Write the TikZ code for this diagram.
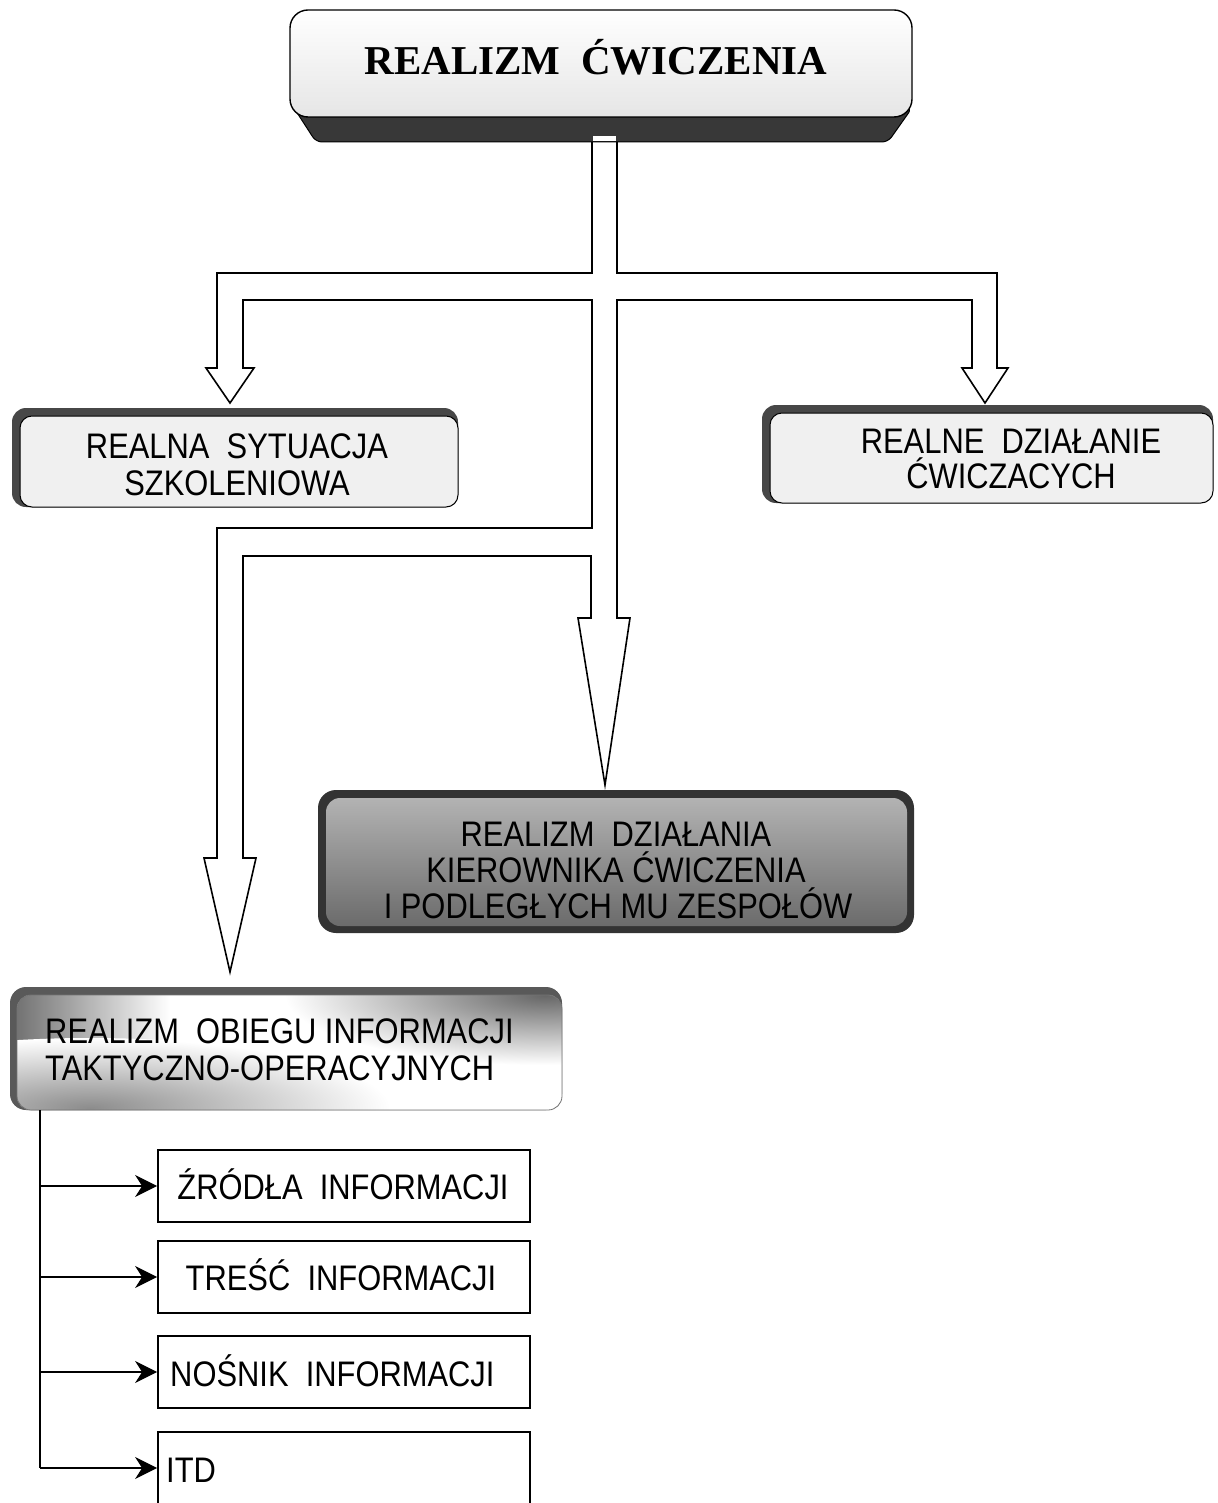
\documentclass[tikz,border=0pt]{standalone}
\usepackage{fontspec}
\setmainfont{Liberation Serif}
\newfontfamily\arialn[FakeStretch=0.87]{Liberation Sans}
\usetikzlibrary{arrows.meta}
\tikzset{
  lbl/.style={font=\arialn\fontsize{35.5}{38}\selectfont, inner sep=0pt, anchor=base},
  lblw/.style={lbl, anchor=base west},
  ttl/.style={font=\bfseries\fontsize{41}{44}\selectfont, inner sep=0pt, anchor=base},
  hollow/.style={draw=black, line width=1.6pt, line join=miter},
  smallbox/.style={draw=black, line width=1.8pt, rectangle, minimum width=372pt, minimum height=72pt, inner sep=0pt},
  feed/.style={draw=black, line width=1.3pt, -{Stealth[length=22pt,width=22pt,inset=7pt]}},
  trunk/.style={draw=black, line width=1.3pt},
}
\begin{document}
\begin{tikzpicture}[x=1pt,y=-1pt]
\useasboundingbox (0,0) rectangle (1217,1503);
\fill[white] (0,0) rectangle (1217,1503);

% ---------- top box ----------
\filldraw[fill=black!78, draw=black, line width=1pt, rounded corners=6pt]
  (294,108) -- (316,142) -- (888,142) -- (912,108) -- cycle;
\shade[top color=white, bottom color=black!10, rounded corners=18pt]
  (290,10) rectangle (912,117);
\draw[black, line width=1.4pt, rounded corners=18pt] (290,10) rectangle (912,117);
\node[ttl] (title) at (596,75) {REALIZM\ \ ĆWICZENIA};
\fill[white] (593,136) rectangle (616,141);

% ---------- hollow arrows ----------
\draw[hollow]
  (592,142) -- (592,273) -- (217,273) -- (217,368) -- (206,368) -- (230,403)
  -- (254,368) -- (243,368) -- (243,300) -- (592,300) -- (592,528) -- (217,528)
  -- (217,858) -- (204,858) -- (230,972) -- (256,858) -- (243,858) -- (243,556)
  -- (591,556) -- (591,618) -- (578,618) -- (605,785) -- (630,618) -- (617,618)
  -- (617,300) -- (972,300) -- (972,368) -- (962,368) -- (985,403) -- (1008,368)
  -- (997,368) -- (997,273) -- (617,273) -- (617,142);

% ---------- left box ----------
\fill[black!72, rounded corners=14pt] (12,408) rectangle (458,507);
\filldraw[fill=black!6, draw=black, line width=1pt, rounded corners=12pt] (20,416) rectangle (458,507);
\node[lbl] (sit1) at (237,458) {REALNA\ \ SYTUACJA};
\node[lbl] (sit2) at (237,495) {SZKOLENIOWA};

% ---------- right box ----------
\fill[black!72, rounded corners=14pt] (762,405) rectangle (1213,503);
\filldraw[fill=black!6, draw=black, line width=1pt, rounded corners=12pt] (770,413) rectangle (1213,503);
\node[lbl] (dz1) at (1011,453) {REALNE\ \ DZIAŁANIE};
\node[lbl] (dz2) at (1011,488) {ĆWICZACYCH};

% ---------- middle box ----------
\fill[black!80, rounded corners=18pt] (318,790) rectangle (914,933);
\shade[top color=black!30, bottom color=black!58, rounded corners=14pt] (326,798) rectangle (907,926);
\node[lbl] (kier1) at (616,846) {REALIZM\ \ DZIAŁANIA};
\node[lbl] (kier2) at (616,882) {KIEROWNIKA ĆWICZENIA};
\node[lbl] (kier3) at (618,918) {I PODLEGŁYCH MU ZESPOŁÓW};

% ---------- information box ----------
\fill[black!65, rounded corners=16pt] (10,987) rectangle (562,1110);
\begin{scope}
  \clip[rounded corners=14pt] (17,995) rectangle (562,1110);
  \fill[white] (17,995) rectangle (562,1110);
  \shade[left color=black!55, right color=white] (17,995) rectangle (170,1110);
  \shade[inner color=black!60, outer color=white] (545,995) ellipse [x radius=260, y radius=70];
  \shade[inner color=black!45, outer color=white] (90,1108) ellipse [x radius=300, y radius=70];
\end{scope}
\draw[black!55, line width=0.8pt, rounded corners=14pt] (17,995) rectangle (562,1110);
\node[lblw] (obieg1) at (45,1043) {REALIZM\ \ OBIEGU INFORMACJI};
\node[lblw] (obieg2) at (45,1080) {TAKTYCZNO-OPERACYJNYCH};

% ---------- small boxes ----------
\node[smallbox] (s1) at (344,1186) {};
\node[smallbox] (s2) at (344,1277) {};
\node[smallbox] (s3) at (344,1372) {};
\node[smallbox] (s4) at (344,1468) {};
\node[lbl] (s1t) at (343,1199) {ŹRÓDŁA\ \ INFORMACJI};
\node[lbl] (s2t) at (341,1290) {TREŚĆ\ \ INFORMACJI};
\node[lblw] (s3t) at (170,1386) {NOŚNIK\ \ INFORMACJI};
\node[lblw] (s4t) at (166,1482) {ITD};

\coordinate (top) at (40,1110);
\coordinate (j1) at (40,1186);
\coordinate (j2) at (40,1277);
\coordinate (j3) at (40,1372);
\coordinate (j4) at (40,1468);
\draw[trunk] (top) -- (j4);
\draw[feed] (j1) -- (s1.west);
\draw[feed] (j2) -- (s2.west);
\draw[feed] (j3) -- (s3.west);
\draw[feed] (j4) -- (s4.west);
\end{tikzpicture}
\end{document}
